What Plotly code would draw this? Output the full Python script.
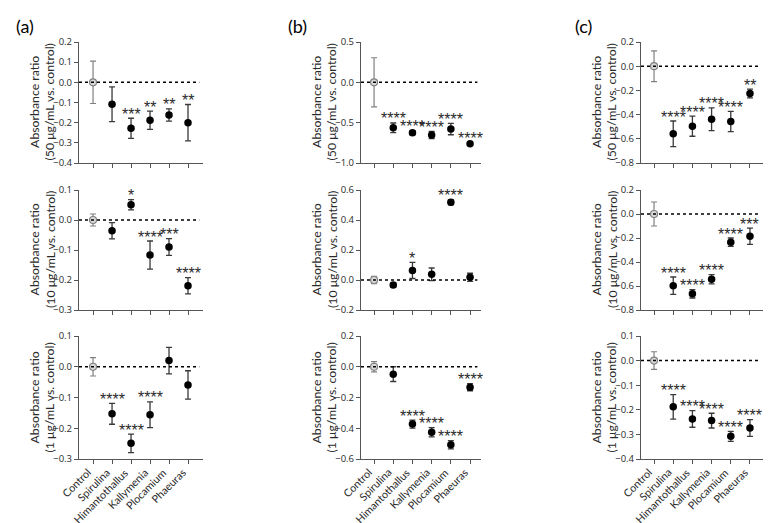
import plotly.graph_objects as go
from plotly.subplots import make_subplots

categories = ["Control", "Spirulina", "Himantothallus", "Kallymenia", "Plocamium", "Phaeuras"]

# Panel (a)
a50_mean = [0.0, -0.109, -0.228, -0.188, -0.162, -0.200]
a50_err = [0.105, 0.086, 0.050, 0.045, 0.030, 0.090]
a50_sig = ["", "", "***", "**", "**", "**"]
a10_mean = [0.0, -0.036, 0.051, -0.117, -0.090, -0.219]
a10_err = [0.020, 0.027, 0.017, 0.047, 0.028, 0.027]
a10_sig = ["", "", "*", "****", "***", "****"]
a1_mean = [0.0, -0.153, -0.249, -0.156, 0.020, -0.059]
a1_err = [0.030, 0.034, 0.030, 0.042, 0.043, 0.046]
a1_sig = ["", "****", "****", "****", "", ""]

# Panel (b)
b50_mean = [0.0, -0.564, -0.625, -0.654, -0.580, -0.761]
b50_err = [0.305, 0.060, 0.025, 0.045, 0.070, 0.020]
b50_sig = ["", "****", "****", "****", "****", "****"]
b10_mean = [0.0, -0.033, 0.064, 0.038, 0.518, 0.018]
b10_err = [0.024, 0.016, 0.054, 0.042, 0.017, 0.027]
b10_sig = ["", "", "*", "", "****", ""]
b1_mean = [0.0, -0.048, -0.373, -0.426, -0.507, -0.133]
b1_err = [0.033, 0.048, 0.026, 0.030, 0.027, 0.023]
b1_sig = ["", "", "****", "****", "****", "****"]

# Panel (c)
c50_mean = [0.0, -0.559, -0.496, -0.438, -0.457, -0.226]
c50_err = [0.127, 0.106, 0.083, 0.094, 0.084, 0.036]
c50_sig = ["", "****", "****", "****", "****", "**"]
c10_mean = [0.0, -0.597, -0.665, -0.544, -0.235, -0.185]
c10_err = [0.100, 0.072, 0.035, 0.039, 0.035, 0.068]
c10_sig = ["", "****", "****", "****", "****", "***"]
c1_mean = [0.0, -0.188, -0.237, -0.244, -0.308, -0.274]
c1_err = [0.036, 0.050, 0.034, 0.030, 0.020, 0.034]
c1_sig = ["", "****", "****", "****", "****", "****"]

# y tick values per panel
a50_ticks = [0.2, 0.1, 0.0, -0.1, -0.2, -0.3, -0.4]
a10_ticks = [0.1, 0.0, -0.1, -0.2, -0.3]
a1_ticks = [0.1, 0.0, -0.1, -0.2, -0.3]
b50_ticks = [0.5, 0.0, -0.5, -1.0]
b10_ticks = [0.6, 0.4, 0.2, 0.0, -0.2]
b1_ticks = [0.2, 0.0, -0.2, -0.4, -0.6]
c50_ticks = [0.2, 0.0, -0.2, -0.4, -0.6, -0.8]
c10_ticks = [0.2, 0.0, -0.2, -0.4, -0.6, -0.8]
c1_ticks = [0.1, 0.0, -0.1, -0.2, -0.3, -0.4]

y_titles = ["Absorbance ratio<br>(50 μg/mL vs. control)",
            "Absorbance ratio<br>(10 μg/mL vs. control)",
            "Absorbance ratio<br>(1 μg/mL vs. control)"]
panel_labels = ["(a)", "(b)", "(c)"]

panels = [
    [(a50_mean, a50_err, a50_sig, a50_ticks), (b50_mean, b50_err, b50_sig, b50_ticks), (c50_mean, c50_err, c50_sig, c50_ticks)],
    [(a10_mean, a10_err, a10_sig, a10_ticks), (b10_mean, b10_err, b10_sig, b10_ticks), (c10_mean, c10_err, c10_sig, c10_ticks)],
    [(a1_mean, a1_err, a1_sig, a1_ticks), (b1_mean, b1_err, b1_sig, b1_ticks), (c1_mean, c1_err, c1_sig, c1_ticks)],
]

W, H = 771, 523
col_px = [(71, 195), (353, 473), (633, 755)]
col_xrange = [(-0.74, 5.79), (-0.68, 5.57), (-0.68, 5.68)]
row_px = [(34, 155), (182, 302), (328, 451)]
label_px = [(17, 18), (289, 18), (575, 18)]

FONT = "Lato"
TICK_FONT = "Open Sans"
STAR_FONT = "Liberation Sans"
AX = "#555555"
TXT = "#2a2a2a"


def tick_label(v):
    s = f"{abs(v):.1f}"
    return ("\u2212" + s) if v < 0 else s


fig = make_subplots(rows=3, cols=3)
xs = list(range(len(categories)))

for r in range(3):
    for c in range(3):
        mean, err, sig, ticks = panels[r][c]
        idx = r * 3 + c + 1
        # control
        fig.add_trace(go.Scatter(
            x=xs[:1], y=mean[:1], mode="markers",
            marker=dict(symbol="circle", size=7, color="#d9d9d9", line=dict(color="#808080", width=1.2)),
            error_y=dict(type="data", array=err[:1], color="#808080", thickness=1.2, width=3),
            showlegend=False, hoverinfo="skip"), row=r + 1, col=c + 1)
        # samples
        fig.add_trace(go.Scatter(
            x=xs[1:], y=mean[1:], mode="markers",
            marker=dict(symbol="circle", size=7.5, color="black"),
            error_y=dict(type="data", array=err[1:], color="#3a3a3a", thickness=1.3, width=3),
            showlegend=False, hoverinfo="skip"), row=r + 1, col=c + 1)
        sfx = "" if idx == 1 else str(idx)
        x0, x1 = col_px[c]
        y0, y1 = row_px[r]
        fig.update_layout({
            f"xaxis{sfx}": dict(
                domain=[x0 / W, x1 / W], range=list(col_xrange[c]), automargin=False,
                tickmode="array", tickvals=xs, showticklabels=False,
                showline=True, linecolor=AX, linewidth=1.2,
                ticks="outside", ticklen=4, tickcolor=AX, tickwidth=1,
                showgrid=False, zeroline=False, fixedrange=True),
            f"yaxis{sfx}": dict(
                domain=[1 - y1 / H, 1 - y0 / H], range=[min(ticks), max(ticks)], automargin=False,
                tickmode="array", tickvals=ticks,
                ticktext=[tick_label(v) for v in ticks],
                tickfont=dict(family=TICK_FONT, size=9.5, color=TXT),
                showline=True, linecolor=AX, linewidth=1.2,
                ticks="outside", ticklen=4, tickcolor=AX, tickwidth=1,
                showgrid=False, zeroline=False, fixedrange=True),
        })
        xref = f"x{sfx}"
        yref = f"y{sfx}"
        # dotted zero line
        fig.add_shape(type="line", xref=f"{xref} domain", yref=yref,
                      x0=0, x1=0.97, y0=0, y1=0,
                      line=dict(color="black", width=1.5, dash="dot"))
        # significance stars
        for i, s in enumerate(sig):
            if s:
                fig.add_annotation(x=xs[i], y=mean[i] + err[i], xref=xref, yref=yref,
                                   text=s, showarrow=False, yanchor="middle", xanchor="center",
                                   yshift=4, font=dict(family=STAR_FONT, size=16, color=TXT))
        # category labels on bottom row
        if r == 2:
            for i, cat in enumerate(categories):
                fig.add_annotation(x=xs[i], y=0, xref=xref, yref=f"{yref} domain",
                                   text=cat, showarrow=False, textangle=-45,
                                   xanchor="right", yanchor="top", xshift=3, yshift=-4,
                                   font=dict(family=FONT, size=10.7, color=TXT))
        # y-axis title
        fig.add_annotation(xref=f"{xref} domain", yref=f"{yref} domain", x=0, y=0.5,
                           xshift=-37, text=y_titles[r], textangle=-90, showarrow=False,
                           xanchor="center", yanchor="middle",
                           font=dict(family=FONT, size=12.3, color=TXT))

for i, lab in enumerate(panel_labels):
    fig.add_annotation(xref="paper", yref="paper", x=label_px[i][0] / W, y=1 - label_px[i][1] / H,
                       text=lab, showarrow=False, xanchor="center", yanchor="middle",
                       font=dict(family=FONT, size=18, color="black"))

fig.update_layout(width=W, height=H, margin=dict(l=0, r=0, t=0, b=0),
                  paper_bgcolor="white", plot_bgcolor="white",
                  font=dict(family=FONT, color=TXT))

fig.write_html("out.html")
